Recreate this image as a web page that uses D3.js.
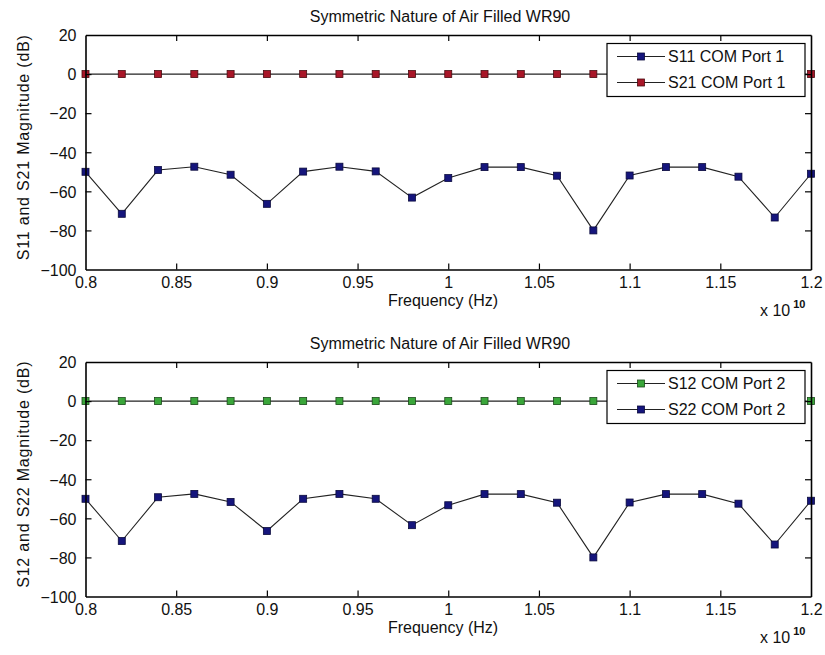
<!DOCTYPE html>
<html>
<head>
<meta charset="utf-8">
<script src="https://cdn.jsdelivr.net/npm/d3@7"></script>
<style>
  html, body { margin: 0; padding: 0; background: #ffffff; }
  svg { display: block; font-family: "Liberation Sans", Arial, Helvetica, sans-serif; }
  .axis text { font-size: 16px; fill: #111; }
  .axis path, .axis line { stroke: #000; }
</style>
</head>
<body>
<svg id="chart" width="825" height="655"></svg>
<script>
// Frequency sweep (units of 1e10 Hz)
const freq = [0.80, 0.82, 0.84, 0.86, 0.88, 0.90, 0.92, 0.94, 0.96, 0.98, 1.00,
              1.02, 1.04, 1.06, 1.08, 1.10, 1.12, 1.14, 1.16, 1.18, 1.20];

// Port 1 measurements (dB)
const s11Port1 = [-50, -71.5, -49.1, -47.4, -51.5, -66.4, -49.9, -47.4, -49.8, -63.2, -53.2,
                  -47.6, -47.6, -52, -80, -51.9, -47.6, -47.6, -52.5, -73.4, -51];
const s21Port1 = [0, 0, 0, 0, 0, 0, 0, 0, 0, 0, 0, 0, 0, 0, 0, 0, 0, 0, 0, 0, 0];

// Port 2 measurements (dB)
const s12Port2 = [0, 0, 0, 0, 0, 0, 0, 0, 0, 0, 0, 0, 0, 0, 0, 0, 0, 0, 0, 0, 0];
const s22Port2 = [-50, -71.6, -49.2, -47.5, -51.6, -66.5, -50, -47.5, -50, -63.5, -53.3,
                  -47.6, -47.6, -52, -80, -51.9, -47.6, -47.6, -52.5, -73.4, -51];

// Axis ticks
const xTicks = [0.8, 0.85, 0.9, 0.95, 1.0, 1.05, 1.1, 1.15, 1.2];
const xTickLabels = ["0.8", "0.85", "0.9", "0.95", "1", "1.05", "1.1", "1.15", "1.2"];
const yTicks = [20, 0, -20, -40, -60, -80, -100];

const titleText = "Symmetric Nature of Air Filled WR90";
const xLabelText = "Frequency (Hz)";

const colors = {
  blue:  { fill: "#15157c", stroke: "#0a0a3c" },
  red:   { fill: "#a81628", stroke: "#4a0a10" },
  green: { fill: "#3aa63a", stroke: "#1a4a1a" }
};

const panels = [
  {
    top: 35, yLabel: "S11 and S21 Magnitude (dB)",
    // legend order; draw order is reversed so the zero trace sits on top
    series: [
      { name: "S11 COM Port 1", values: s11Port1, color: colors.blue },
      { name: "S21 COM Port 1", values: s21Port1, color: colors.red }
    ]
  },
  {
    top: 362, yLabel: "S12 and S22 Magnitude (dB)",
    series: [
      { name: "S12 COM Port 2", values: s12Port2, color: colors.green },
      { name: "S22 COM Port 2", values: s22Port2, color: colors.blue }
    ]
  }
];

const svg = d3.select("#chart");
const left = 85.5, right = 811, plotH = 234.5;
const markerSize = 7;

panels.forEach(panel => {
  const top = panel.top, bottom = top + plotH;
  const x = d3.scaleLinear().domain([0.8, 1.2]).range([left, right]);
  const y = d3.scaleLinear().domain([-100, 20]).range([bottom, top]);
  const g = svg.append("g");

  // Title
  g.append("text")
    .attr("x", 440).attr("y", top - 13)
    .attr("text-anchor", "middle")
    .style("font-size", "16px").style("fill", "#111")
    .text(titleText);

  // Data lines and markers
  const line = d3.line().x((d, i) => x(freq[i])).y(d => y(d));
  const drawOrder = panel.series.slice();
  drawOrder.forEach(s => {
    g.append("path")
      .datum(s.values)
      .attr("d", line)
      .attr("fill", "none")
      .attr("stroke", "#222")
      .attr("stroke-width", 1.1);
    g.selectAll(null)
      .data(s.values)
      .enter().append("rect")
      .attr("x", (d, i) => x(freq[i]) - markerSize / 2)
      .attr("y", d => y(d) - markerSize / 2)
      .attr("width", markerSize).attr("height", markerSize)
      .attr("fill", s.color.fill)
      .attr("stroke", s.color.stroke)
      .attr("stroke-width", 0.8);
  });

  // Axes with inward ticks on all four sides
  const xFmt = (d) => xTickLabels[xTicks.indexOf(d)];
  const bottomAxis = g.append("g").attr("class", "axis")
    .attr("transform", `translate(0,${bottom})`)
    .call(d3.axisBottom(x).tickValues(xTicks).tickFormat(xFmt)
      .tickSizeInner(-6).tickSizeOuter(0).tickPadding(7));
  const topAxis = g.append("g").attr("class", "axis")
    .attr("transform", `translate(0,${top})`)
    .call(d3.axisTop(x).tickValues(xTicks).tickFormat("")
      .tickSizeInner(-6).tickSizeOuter(0));
  const leftAxis = g.append("g").attr("class", "axis")
    .attr("transform", `translate(${left},0)`)
    .call(d3.axisLeft(y).tickValues(yTicks).tickFormat(d3.format("d"))
      .tickSizeInner(-6).tickSizeOuter(0).tickPadding(9));
  const rightAxis = g.append("g").attr("class", "axis")
    .attr("transform", `translate(${right},0)`)
    .call(d3.axisRight(y).tickValues(yTicks).tickFormat("")
      .tickSizeInner(-6).tickSizeOuter(0));
  [bottomAxis, topAxis, leftAxis, rightAxis].forEach(a => {
    a.select(".domain").attr("stroke-width", 1.6);
    a.selectAll(".tick line").attr("stroke-width", 1.2);
  });
  // Hide the top/bottom tick marks sitting on the frame corners
  [bottomAxis, topAxis].forEach(a => a.selectAll(".tick line")
    .filter(d => d === 0.8 || d === 1.2).remove());
  [leftAxis, rightAxis].forEach(a => a.selectAll(".tick line")
    .filter(d => d === 20 || d === -100).remove());
  leftAxis.selectAll(".tick text").attr("dy", "0.36em");

  // Axis labels
  g.append("text")
    .attr("x", 443).attr("y", bottom + 36)
    .attr("text-anchor", "middle")
    .style("font-size", "16px").style("fill", "#111")
    .text(xLabelText);
  const expo = g.append("text")
    .attr("x", 760).attr("y", bottom + 46)
    .style("font-size", "16px").style("fill", "#111");
  expo.append("tspan").text("x 10");
  expo.append("tspan").attr("dx", 3).attr("dy", -8)
    .style("font-size", "11px").style("font-weight", "bold").text("10");

  g.append("text")
    .attr("transform", `translate(29,${(top + bottom) / 2 - 5}) rotate(-90)`)
    .attr("text-anchor", "middle")
    .style("font-size", "16px").style("letter-spacing", "0.8px").style("fill", "#111")
    .text(panel.yLabel);

  // Legend
  const lgX = 607, lgY = top + 8.5, lgW = 198, lgH = 53;
  const lg = g.append("g");
  lg.append("rect")
    .attr("x", lgX).attr("y", lgY).attr("width", lgW).attr("height", lgH)
    .attr("fill", "#fff").attr("stroke", "#000").attr("stroke-width", 1.2);
  panel.series.forEach((s, i) => {
    const cy = lgY + 13 + i * 26;
    lg.append("line")
      .attr("x1", lgX + 10).attr("x2", lgX + 58)
      .attr("y1", cy).attr("y2", cy)
      .attr("stroke", "#222").attr("stroke-width", 1.1);
    lg.append("rect")
      .attr("x", lgX + 34 - markerSize / 2).attr("y", cy - markerSize / 2)
      .attr("width", markerSize).attr("height", markerSize)
      .attr("fill", s.color.fill).attr("stroke", s.color.stroke).attr("stroke-width", 0.8);
    lg.append("text")
      .attr("x", lgX + 61).attr("y", cy).attr("dy", "0.36em")
      .style("font-size", "16px").style("fill", "#111")
      .text(s.name);
  });
});
</script>
</body>
</html>
